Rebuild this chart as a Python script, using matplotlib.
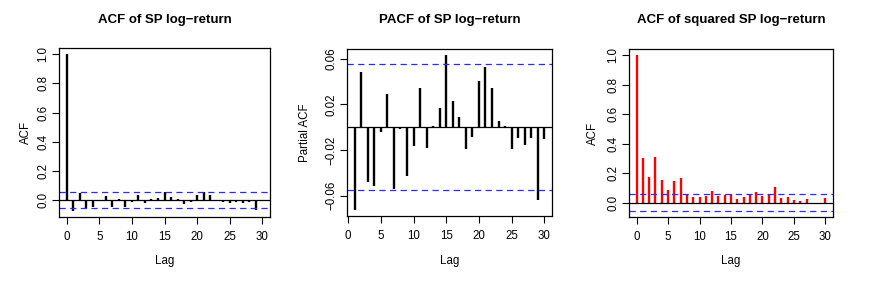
import numpy as np
import matplotlib
matplotlib.use("Agg")
import matplotlib.pyplot as plt

plt.rcParams['font.family'] = ['Liberation Sans', 'DejaVu Sans']

# ---- data ----
lags_acf = list(range(0, 31))
acf_ret = [1.0, -0.073, 0.050, -0.055, -0.045, -0.005, 0.030, -0.050, 0.010, -0.050,
           -0.010, 0.035, -0.020, 0.010, 0.015, 0.055, 0.020, 0.010, -0.025, -0.010,
           0.035, 0.055, 0.035, 0.002, -0.015, -0.020, -0.010, -0.020, -0.010, -0.065,
           -0.002]

lags_pacf = list(range(1, 31))
pacf_ret = [-0.0725, 0.0487, -0.0484, -0.0520, -0.0044, 0.0293, -0.0540, -0.0020, -0.0426, -0.0165,
            0.0345, -0.0186, 0.0010, 0.0171, 0.0630, 0.0226, 0.0084, -0.0189, -0.0087, 0.0400,
            0.0525, 0.0345, 0.0050, 0.0006, -0.0189, -0.0099, -0.0160, -0.0099, -0.0638, -0.0107]

acf_sq = [1.0, 0.305, 0.172, 0.312, 0.152, 0.086, 0.147, 0.170, 0.059, 0.041,
          0.038, 0.043, 0.081, 0.048, 0.054, 0.061, 0.027, 0.038, 0.061, 0.075,
          0.045, 0.057, 0.109, 0.032, 0.038, 0.016, 0.014, 0.023, -0.005, -0.007,
          0.032]

conf_bound = 0.0555

titles = ["ACF of SP log\u2212return", "PACF of SP log\u2212return", "ACF of squared SP log\u2212return"]
ylabels = ["ACF", "Partial ACF", "ACF"]
xticks = [0, 5, 10, 15, 20, 25, 30]
yticks_acf = [0.0, 0.2, 0.4, 0.6, 0.8, 1.0]
yticks_pacf = [-0.06, -0.02, 0.02, 0.06]

W, H = 874, 283
fig = plt.figure(figsize=(W / 100, H / 100), dpi=100)

# pixel boxes (left, top, right, bottom)
boxes = [(59, 48, 270, 217), (347, 49, 552, 216), (629, 49, 833, 217)]
ylabel_px = [26, 305, 593]
xlabel_py = 261
title_py = 20

panels = [
    (lags_acf, acf_ret, 'black', yticks_acf, "%.1f"),
    (lags_pacf, pacf_ret, 'black', yticks_pacf, "%.2f"),
    (lags_acf, acf_sq, 'red', yticks_acf, "%.1f"),
]

for i, ((x, y, col, yt, fmt), (l, t, r, b)) in enumerate(zip(panels, boxes)):
    ax = fig.add_axes([l / W, (H - b) / H, (r - l) / W, (b - t) / H])
    ax.vlines(x, 0, y, colors=col, lw=1.7)
    ax.axhline(0, color='black', lw=0.9)
    ax.axhline(conf_bound, color='#2a2aff', lw=0.9, ls=(0, (5, 3.5)))
    ax.axhline(-conf_bound, color='#2a2aff', lw=0.9, ls=(0, (5, 3.5)))
    xmin, xmax = min(x), max(x)
    xr = xmax - xmin
    ax.set_xlim(xmin - 0.04 * xr, xmax + 0.04 * xr)
    ymin = min(min(y), -conf_bound)
    ymax = max(max(y), conf_bound)
    yr = ymax - ymin
    ax.set_ylim(ymin - 0.04 * yr, ymax + 0.04 * yr)
    ax.set_xticks(xticks)
    ax.set_xticklabels([str(v) for v in xticks], fontsize=8.3)
    ax.set_yticks(yt)
    ax.set_yticklabels([(fmt % v).replace('-', '\u2212') for v in yt], fontsize=8.3,
                       rotation=90, va='center')
    ax.tick_params(axis='x', direction='out', length=5, width=0.8, pad=5)
    ax.tick_params(axis='y', direction='out', length=5, width=0.8, pad=2)
    for s in ax.spines.values():
        s.set_linewidth(0.9)
    ax.set_xlabel("Lag", fontsize=8.3, va='center')
    ax.xaxis.set_label_coords(0.5, (b - xlabel_py) / (b - t))
    ax.set_ylabel(ylabels[i], fontsize=8.3, va='center')
    ax.yaxis.set_label_coords((ylabel_px[i] - l) / (r - l), 0.5)
    fig.text((l + r) / 2 / W, 1 - title_py / H, titles[i], fontsize=9.5,
             fontweight='bold', ha='center', va='center')

fig.savefig("out.png", dpi=100, facecolor='white')
